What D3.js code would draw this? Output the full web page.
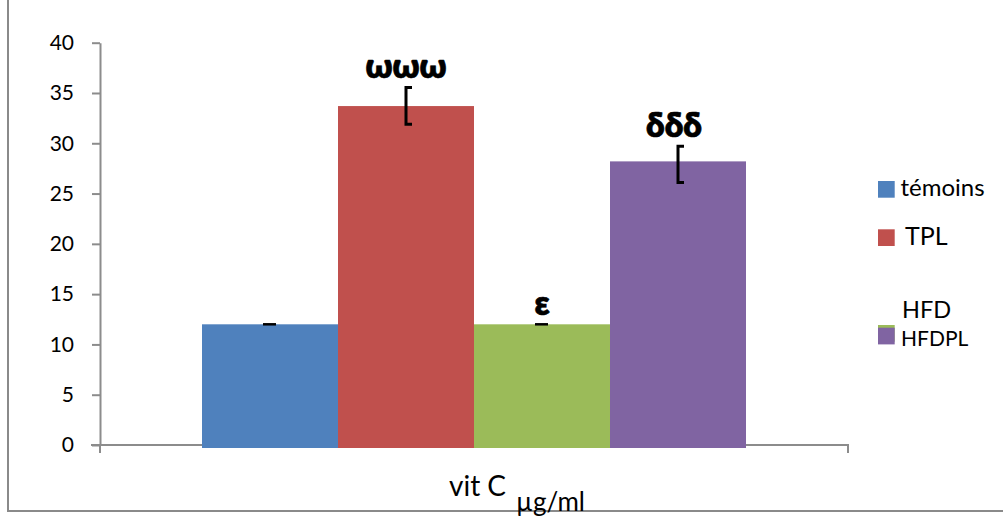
<!DOCTYPE html>
<html>
<head>
<meta charset="utf-8">
<script src="https://cdn.jsdelivr.net/npm/d3@7"></script>
<style>
  html, body { margin: 0; padding: 0; background: #fff; }
  svg { display: block; }
  text { font-family: Lato, "Open Sans", sans-serif; fill: #000; }
</style>
</head>
<body>
<svg id="chart" width="1003" height="517"></svg>
<script>
// ---- data ----
const categories = ["vit C"];
const series = ["témoins", "TPL", "HFD", "HFDPL"];
const values = [12, 33.7, 12, 28.2];
const errPlus = [0, 1.85, 0, 1.5];
const errMinus = [0, 1.8, 0, 2.1];
const annotations = ["", "ωωω", "ε", "δδδ"];
const yTicks = [0, 5, 10, 15, 20, 25, 30, 35, 40];
const colors = ["#4F81BD", "#C0504D", "#9BBB59", "#8064A2"];

// ---- layout ----
const svg = d3.select("#chart");
const plot = { left: 100, right: 848, top: 42.7, bottom: 445 };
const axisColor = "#8c8c8c";

// outer frame
svg.append("path")
  .attr("d", "M8,-5 V511 H1010")
  .attr("fill", "none").attr("stroke", "#8a8a8a").attr("stroke-width", 2);

const y = d3.scaleLinear().domain([0, 40]).range([plot.bottom, plot.top]);
const x0 = d3.scaleBand().domain(categories).range([plot.left, plot.right])
  .paddingInner(0).paddingOuter(0.1875);
const x1 = d3.scaleBand().domain(series).range([0, x0.bandwidth()]).padding(0);

// y axis
const yAxis = d3.axisLeft(y).tickValues(yTicks).tickSize(8).tickPadding(18).tickSizeOuter(0);
const gy = svg.append("g").attr("transform", `translate(${plot.left},0)`).call(yAxis);
gy.select(".domain").attr("stroke", axisColor).attr("stroke-width", 2);
gy.selectAll(".tick line").attr("stroke", axisColor).attr("stroke-width", 2);
gy.selectAll(".tick text").attr("font-size", 21).attr("font-family", "Lato").attr("fill", "#000");

// x axis
const gx = svg.append("g");
gx.append("line").attr("x1", plot.left - 9).attr("x2", plot.right + 1)
  .attr("y1", y(0)).attr("y2", y(0)).attr("stroke", axisColor).attr("stroke-width", 2);
[plot.left, plot.right].forEach(px => {
  gx.append("line").attr("x1", px).attr("x2", px).attr("y1", y(0)).attr("y2", y(0) + 8)
    .attr("stroke", axisColor).attr("stroke-width", 2);
});

// bars
const gBars = svg.append("g").attr("transform", `translate(${x0(categories[0])},0)`);
gBars.selectAll("rect").data(values).join("rect")
  .attr("x", (d, i) => x1(series[i]))
  .attr("width", x1.bandwidth())
  .attr("y", d => y(d))
  .attr("height", d => y(0) + 3 - y(d))
  .attr("fill", (d, i) => colors[i]);

// error bars
values.forEach((v, i) => {
  const cx = x1(series[i]) + x1.bandwidth() / 2;
  const g = gBars.append("g");
  if (errPlus[i] === 0 && errMinus[i] === 0) {
    g.append("line").attr("x1", cx - 7).attr("x2", cx + 6)
      .attr("y1", y(v)).attr("y2", y(v)).attr("stroke", "#000").attr("stroke-width", 2.5);
  } else {
    const yt = y(v + errPlus[i]), yb = y(v - errMinus[i]);
    g.append("path")
      .attr("d", `M${cx + 6},${yt} H${cx} V${yb} H${cx + 6}`)
      .attr("fill", "none").attr("stroke", "#000").attr("stroke-width", 3);
  }
  if (annotations[i]) {
    gBars.append("text")
      .attr("x", cx - (i === 3 ? 4 : 0))
      .attr("y", y(v + errPlus[i]) - 9.5)
      .attr("text-anchor", "middle")
      .attr("font-family", "'Open Sans', Lato, sans-serif")
      .attr("font-weight", 800)
      .attr("font-size", 33)
      .attr("stroke", "#000").attr("stroke-width", 0.6)
      .text(annotations[i]);
  }
});

// axis title
const title = svg.append("text").attr("x", 449).attr("y", 496).attr("font-size", 28);
title.append("tspan").text("vit C");
title.append("tspan").attr("x", 516).attr("y", 511).attr("font-size", 26).text("µg/ml");

// legend
const legendItems = [
  { sq: [878, 181], tx: [900.5, 196], size: 24, label: series[0], color: colors[0] },
  { sq: [878, 229.3], tx: [905, 245], size: 25, label: series[1], color: colors[1] },
  { sq: [878, 325], tx: [902, 318], size: 23.5, label: series[2], color: colors[2] },
  { sq: [878, 327.7], tx: [901, 345.5], size: 21, label: series[3], color: colors[3] }
];
const gl = svg.append("g");
legendItems.forEach(it => {
  gl.append("rect").attr("x", it.sq[0]).attr("y", it.sq[1]).attr("width", 16.7).attr("height", 16.7)
    .attr("fill", it.color);
  gl.append("text").attr("x", it.tx[0]).attr("y", it.tx[1]).attr("font-size", it.size).text(it.label);
});
</script>
</body>
</html>
